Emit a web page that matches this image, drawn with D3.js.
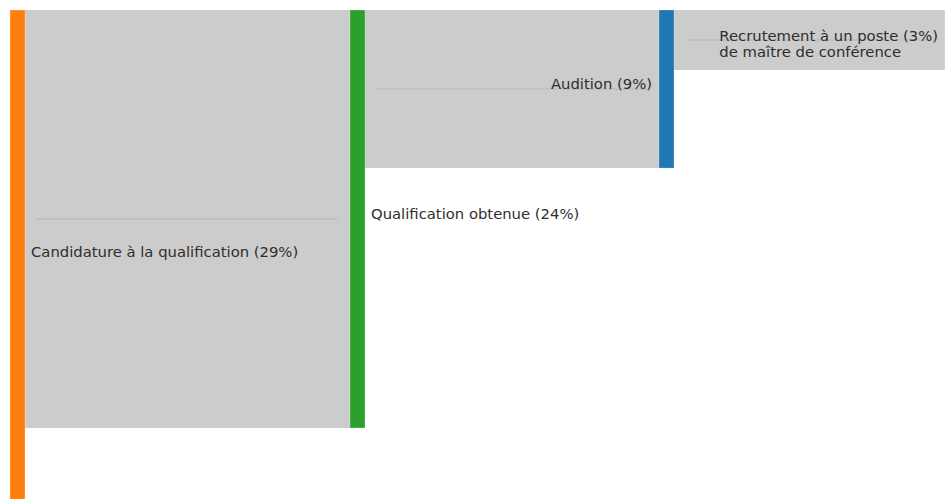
<!DOCTYPE html>
<html>
<head>
<meta charset="utf-8">
<script src="https://cdn.jsdelivr.net/npm/d3@7"></script>
<style>
  html, body { margin: 0; padding: 0; background: #fff; }
  svg { display: block; }
</style>
</head>
<body>
<svg width="945" height="499"></svg>
<script>
// Stages of the path (one column each)
const stageLines = [
  ["Candidature à la qualification"],
  ["Qualification obtenue"],
  ["Audition"],
  ["Recrutement à un poste", "de maître de conférence"]
];
// share of candidates reaching each stage (%)
const stageValues = [28.7, 24.25, 9.17, 3.48];
// flows between consecutive stages (%)
const flowValues = [24.25, 9.17, 3.48];
const nodeColors = ["#ff7f0e", "#2ca02c", "#1f77b4", "#9467bd"];

const svg = d3.select("svg");
const W = 945, topY = 10, nodeW = 15;

const stageIdx = stageLines.map((d, i) => i);

// column positions
const x = d3.scaleOrdinal()
  .domain(stageIdx)
  .range([10, 350, 659, 945]);

// value -> pixel height
const h = d3.scaleLinear()
  .domain([0, 24.25])
  .range([0, 418]);

// links first (grey bands)
const band = d3.area()
  .x(d => d[0])
  .y0(d => d[1])
  .y1(d => d[2]);

const links = flowValues.map((v, i) => ({src: i, tgt: i + 1, value: v}));

svg.selectAll("path.link")
  .data(links)
  .enter()
  .append("path")
  .attr("class", "link")
  .attr("d", d => band([
    [x(d.src) + nodeW, topY, topY + h(d.value)],
    [x(d.tgt), topY, topY + h(d.value)]
  ]))
  .attr("fill", "rgba(0,0,0,0.2)");

// faint centre line, like the rendering in the original
svg.selectAll("path.mid")
  .data(links)
  .enter()
  .append("path")
  .attr("class", "mid")
  .attr("d", d => d3.line()([
    [x(d.src) + nodeW + 12, topY + h(d.value) / 2],
    [Math.min(x(d.tgt), W) - 12, topY + h(d.value) / 2]
  ]))
  .attr("stroke", "rgba(0,0,0,0.1)")
  .attr("stroke-width", 1)
  .attr("fill", "none");

// nodes
svg.selectAll("rect.node")
  .data(stageValues)
  .enter()
  .append("rect")
  .attr("class", "node")
  .attr("x", (d, i) => x(i))
  .attr("y", topY)
  .attr("width", nodeW)
  .attr("height", d => h(d))
  .attr("fill", (d, i) => nodeColors[i])
  .attr("stroke", "rgba(255,255,255,0.5)")
  .attr("stroke-width", 0.5);

// labels
const fs = 14.8;
const labels = svg.selectAll("text.label")
  .data(stageValues)
  .enter()
  .append("text")
  .attr("class", "label")
  .style("font-family", "'DejaVu Sans', sans-serif")
  .style("font-size", fs + "px")
  .attr("fill", "#2e2e2e");

labels.each(function(v, i) {
  const t = d3.select(this);
  const lines = stageLines[i].slice();
  lines[0] = lines[0] + " (" + Math.round(v) + "%)";
  const cy = topY + h(v) / 2 - 0.5 + (lines.length > 1 ? 2 : 0);
  lines.forEach((ln, k) => {
    t.append("tspan")
      .attr("y", cy + k * fs * 1.02)
      .text(ln);
  });
  const onRight = x(i) < W / 2;
  let tx;
  if (onRight) {
    tx = x(i) + nodeW + 6;
  } else {
    const wMax = d3.max(t.selectAll("tspan").nodes(), n => n.getComputedTextLength());
    tx = x(i) - 7 - wMax;
  }
  t.selectAll("tspan").attr("x", tx);
});
</script>
</body>
</html>
